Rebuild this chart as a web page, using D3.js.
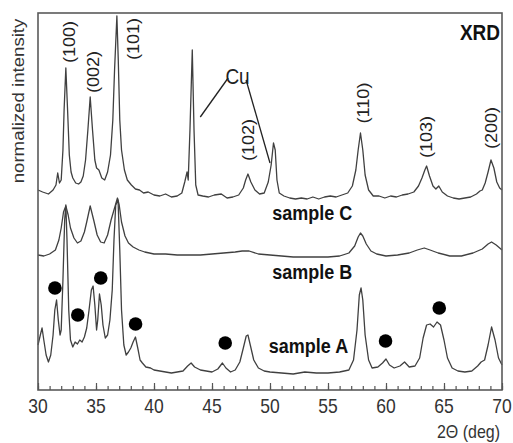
<!DOCTYPE html>
<html><head><meta charset="utf-8">
<script src="https://cdn.jsdelivr.net/npm/d3@7/dist/d3.min.js"></script>
<style>body{margin:0;background:#fff;} svg{display:block;font-family:"Liberation Sans",Arial,sans-serif;}</style>
</head><body><svg id="c" width="513" height="443"></svg>
<script>
// ---- data (2θ in degrees, intensity in arbitrary units, curves offset) ----
const sampleC = [[30,200],[30.4,198],[30.9,196],[31.3,200],[31.55,205],[31.7,217],[31.85,207],[32.0,210],[32.15,240],[32.25,280],[32.4,322],[32.55,280],[32.7,235],[32.85,218],[33.0,212],[33.25,207],[33.5,206],[33.7,208],[33.9,214],[34.1,230],[34.3,260],[34.5,293],[34.7,260],[34.9,230],[35.05,222],[35.25,220],[35.5,212],[35.75,210],[36.0,218],[36.25,235],[36.45,270],[36.6,320],[36.8,374],[36.92,330],[37.05,270],[37.2,240],[37.45,220],[37.7,210],[38.05,205],[38.4,201],[38.75,200],[39.1,197],[39.5,198],[40.0,195],[40.5,194],[41.0,196],[41.5,193],[42.0,194],[42.4,197],[42.65,208],[42.85,218],[42.95,210],[43.1,260],[43.3,340],[43.45,260],[43.6,205],[43.8,195],[44.2,194],[44.7,193],[45.2,195],[45.8,196],[46.3,192],[46.8,193],[47.3,195],[47.7,202],[47.9,210],[48.1,216],[48.35,208],[48.7,200],[49.1,196],[49.5,197],[49.85,208],[50.1,225],[50.3,247],[50.45,240],[50.6,210],[50.8,197],[51.2,194],[51.7,192],[52.2,191],[52.7,192],[53.2,191],[53.7,193],[54.2,191],[54.7,193],[55.2,194],[55.7,193],[56.2,195],[56.7,197],[57.1,204],[57.4,220],[57.6,240],[57.8,257],[58.0,240],[58.2,215],[58.5,200],[58.9,194],[59.4,194],[59.9,192],[60.4,194],[60.9,193],[61.4,195],[61.9,196],[62.4,198],[62.8,204],[63.1,212],[63.35,220],[63.5,224],[63.75,214],[64.05,204],[64.3,201],[64.55,204],[64.85,198],[65.3,194],[65.8,192],[66.3,191],[66.8,192],[67.3,193],[67.8,196],[68.1,199],[68.3,200],[68.55,207],[68.8,218],[69.05,230],[69.3,222],[69.55,208],[69.8,202],[70,200]];
const sampleB = [[30,135],[30.5,134],[31.0,136],[31.5,140],[31.8,150],[32.0,162],[32.2,178],[32.4,184],[32.6,175],[32.8,162],[33.1,152],[33.4,147],[33.7,149],[34.0,158],[34.2,168],[34.5,184],[34.8,170],[35.1,155],[35.4,148],[35.7,147],[36.0,155],[36.3,170],[36.5,178],[36.7,186],[36.85,192],[37.0,185],[37.2,168],[37.5,154],[37.8,147],[38.2,143],[38.7,140],[39.2,138],[40,136],[41,136],[42,135],[43,135],[44,135],[45,136],[46,137],[47,138],[47.6,139],[48.2,139],[49,136],[50,135],[51,134],[52,133],[53,133],[54,133],[55,133],[56,134],[56.8,137],[57.3,144],[57.6,153],[57.8,157],[58.0,154],[58.3,146],[58.7,139],[59.2,136],[60,134],[61,135],[62,137],[62.7,140],[63.3,142],[63.8,140],[64.5,137],[65.5,134],[66.5,134],[67.5,137],[68.3,141],[68.8,146],[69.1,148],[69.5,145],[70,140]];
const sampleA = [[30.0,45],[30.2,55],[30.35,62],[30.5,50],[30.7,35],[30.9,28],[31.1,35],[31.3,55],[31.45,80],[31.6,90],[31.75,70],[31.9,55],[32.0,60],[32.15,110],[32.3,170],[32.4,185],[32.5,150],[32.65,80],[32.8,50],[33.0,43],[33.2,48],[33.4,46],[33.6,50],[33.8,48],[34.0,53],[34.2,62],[34.4,80],[34.6,100],[34.75,104],[34.9,85],[35.05,60],[35.15,70],[35.3,96],[35.45,85],[35.6,65],[35.8,52],[36.0,55],[36.2,70],[36.4,100],[36.55,150],[36.7,185],[36.9,190],[37.05,140],[37.2,80],[37.4,45],[37.6,35],[37.8,38],[38.0,42],[38.2,48],[38.4,53],[38.6,42],[38.8,30],[39.0,27],[39.3,23],[39.7,22],[40,20],[40.5,19],[41,18],[41.5,17],[42,18],[42.5,19],[42.9,24],[43.2,27],[43.5,23],[44,20],[44.5,19],[45,18],[45.5,21],[45.9,27],[46.2,22],[46.6,18],[47.0,20],[47.4,28],[47.7,42],[47.95,54],[48.1,55],[48.3,45],[48.6,30],[49,22],[49.5,19],[50,18],[51,17],[52,16],[53,18],[54,17],[55,17],[56,18],[56.8,20],[57.2,30],[57.5,60],[57.7,95],[57.85,102],[58.0,90],[58.2,55],[58.5,30],[58.8,22],[59.3,23],[59.7,27],[60.0,31],[60.3,25],[60.7,22],[61.2,24],[61.6,28],[62.0,23],[62.5,24],[62.9,32],[63.2,52],[63.5,65],[63.8,66],[64.1,63],[64.4,68],[64.7,65],[65.0,50],[65.3,32],[65.7,22],[66.2,19],[66.8,18],[67.4,19],[67.9,24],[68.2,28],[68.5,30],[68.8,45],[69.1,63],[69.4,50],[69.7,32],[70,25]];
const seriesNames = ["sample C","sample B","sample A"];
const nameTheta = [50.2, 50.2, 49.9];
const nameLevel = [170, 111, 37];
const peakLabels = ["(100)","(002)","(101)","(102)","(110)","(103)","(200)"];
const peakLabelTheta = [32.75, 34.81, 38.24, 48.2, 58.07, 63.56, 69.14];
const peakLabelLevel = [348, 318, 351, 250, 287, 253, 262];
const dotTheta = [31.46, 33.43, 35.41, 38.41, 46.14, 59.96, 64.59];
const dotLevel = [102, 75, 112, 66, 47, 49, 82];
const cuLabelTheta = 47.2, cuLabelLevel = 306;
const cuLines = [[[46.39,312],[43.99,273]],[[47.94,310],[50.0,227]]];
const xTicks = [30,35,40,45,50,55,60,65,70];
const xMinor = d3.range(30,71,1);

// ---- layout ----
const W = 513, H = 443;
const m = {left:38, top:13, right:11, bottom:53};
const svg = d3.select("#c");
const x = d3.scaleLinear().domain([30,70]).range([m.left, W-m.right]);
const y = d3.scaleLinear().domain([0,377]).range([H-m.bottom, m.top]);
const SY = 1.13; // vertical stretch of the original lettering

svg.append("rect").attr("x",0).attr("y",0).attr("width",W).attr("height",H).attr("fill","#fff");

const line = d3.line().x(d=>x(d[0])).y(d=>y(d[1]));
[sampleC, sampleB, sampleA].forEach(s=>{
  svg.append("path").attr("d", line(s)).attr("fill","none")
    .attr("stroke","#404040").attr("stroke-width",1.3).attr("stroke-linejoin","round");
});

// frame
svg.append("rect").attr("x",x(30)).attr("y",y(377)).attr("width",x(70)-x(30)).attr("height",y(0)-y(377))
  .attr("fill","none").attr("stroke","#5a5a5a").attr("stroke-width",1.6);

// bottom axis (ticks inward)
const axMinor = d3.axisTop(x).tickValues(xMinor).tickSize(4).tickFormat("");
const gMin = svg.append("g").attr("transform",`translate(0,${y(0)})`).call(axMinor);
gMin.select(".domain").remove();
gMin.selectAll("line").attr("stroke","#555").attr("stroke-width",1.2);
const axMajor = d3.axisTop(x).tickValues(xTicks).tickSize(7).tickFormat("");
const gMaj = svg.append("g").attr("transform",`translate(0,${y(0)})`).call(axMajor);
gMaj.select(".domain").remove();
gMaj.selectAll("line").attr("stroke","#555").attr("stroke-width",1.2);

xTicks.forEach(t=>{
  svg.append("text").attr("transform",`translate(${x(t)},413) scale(1,${SY})`)
    .attr("text-anchor","middle").attr("font-size",17.5).attr("fill","#333").text(t);
});
svg.append("text").attr("transform",`translate(500,438) scale(1,${SY})`)
  .attr("text-anchor","end").attr("font-size",16).attr("fill","#333").text("2Θ (deg)");
svg.append("text").attr("transform",`translate(24,101) scale(1,${SY}) rotate(-90)`)
  .attr("text-anchor","middle").attr("font-size",16.5).attr("fill","#333").text("normalized intensity");

// title
svg.append("text").attr("transform",`translate(500,40) scale(1,${SY})`)
  .attr("text-anchor","end").attr("font-size",19).attr("font-weight","bold").attr("fill","#111").text("XRD");

// sample names
seriesNames.forEach((n,i)=>{
  svg.append("text").attr("transform",`translate(${x(nameTheta[i])},${y(nameLevel[i])}) scale(1,${SY})`)
    .attr("font-size",18).attr("font-weight","bold").attr("fill","#111").text(n);
});

// peak labels
peakLabels.forEach((p,i)=>{
  svg.append("text").attr("transform",`translate(${x(peakLabelTheta[i])},${y(peakLabelLevel[i])}) scale(1,${SY}) rotate(-90)`)
    .attr("text-anchor","middle").attr("dominant-baseline","central")
    .attr("font-size",16).attr("fill","#222").text(p);
});

// Cu annotation
svg.append("text").attr("transform",`translate(${x(cuLabelTheta)},${y(cuLabelLevel)}) scale(1,${SY})`)
  .attr("text-anchor","middle").attr("font-size",19).attr("fill","#222").text("Cu");
cuLines.forEach(l=>{
  svg.append("line").attr("x1",x(l[0][0])).attr("y1",y(l[0][1])).attr("x2",x(l[1][0])).attr("y2",y(l[1][1]))
    .attr("stroke","#222").attr("stroke-width",1.3);
});

// dots
dotTheta.forEach((t,i)=>{
  svg.append("circle").attr("cx",x(t)).attr("cy",y(dotLevel[i])).attr("r",6.8).attr("fill","#000");
});
</script></body></html>
